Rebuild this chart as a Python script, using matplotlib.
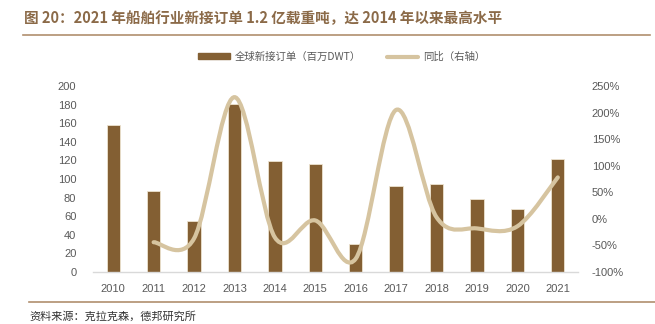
import matplotlib as mpl
mpl.use('Agg')
import matplotlib.pyplot as plt
from matplotlib.path import Path
from matplotlib.patches import PathPatch
from matplotlib.lines import Line2D
from matplotlib.patches import Patch

plt.rcParams['font.family'] = ['Noto Sans CJK SC', 'DejaVu Sans']

years = ['2010', '2011', '2012', '2013', '2014', '2015', '2016', '2017', '2018', '2019', '2020', '2021']
orders = [158, 87, 55, 181, 119, 116, 30, 92, 95, 78, 68, 121]
yoy_years = ['2011', '2012', '2013', '2014', '2015', '2016', '2017', '2018', '2019', '2020', '2021']
yoy = [-44, -37, 229, -35, -3, -75, 205, 3, -18, -14, 78]

title = '图 20：2021 年船舶行业新接订单 1.2 亿载重吨，达 2014 年以来最高水平'
source = '资料来源：克拉克森，德邦研究所'
bar_label = '全球新接订单（百万DWT）'
line_label = '同比（右轴）'

bar_color = '#835F33'
line_color = '#D6C4A0'
tick_color = '#595959'


def smooth_path(xs, ys):
    # Excel-like smoothed line: cubic bezier segments through the points
    pts = list(zip(xs, ys))
    verts = [pts[0]]
    codes = [Path.MOVETO]
    n = len(pts)
    for i in range(n - 1):
        p0 = pts[i - 1] if i > 0 else pts[i]
        p1 = pts[i]
        p2 = pts[i + 1]
        p3 = pts[i + 2] if i + 2 < n else pts[i + 1]
        c1 = (p1[0] + (p2[0] - p0[0]) / 6, p1[1] + (p2[1] - p0[1]) / 6)
        c2 = (p2[0] - (p3[0] - p1[0]) / 6, p2[1] - (p3[1] - p1[1]) / 6)
        verts += [c1, c2, p2]
        codes += [Path.CURVE4] * 3
    return Path(verts, codes)


fig = plt.figure(figsize=(6.55, 3.24), dpi=100)
ax = fig.add_axes([93 / 655, 1 - 272 / 324, 485 / 655, 186 / 324])

x = list(range(len(years)))
ax.bar(x, orders, width=0.33, color=bar_color, edgecolor='#EDE3D0', linewidth=0.6, zorder=2)
ax.set_xlim(-0.5, len(years) - 0.5)
ax.set_ylim(0, 200)
ax.set_yticks(range(0, 201, 20))
ax.set_xticks(x)
ax.set_xticklabels(years)
for s in ['top', 'right', 'left']:
    ax.spines[s].set_visible(False)
ax.spines['bottom'].set_color('#D9D9D9')
ax.spines['bottom'].set_linewidth(1.0)
ax.tick_params(axis='both', length=0, colors=tick_color, labelsize=8)
ax.tick_params(axis='x', pad=9)
ax.tick_params(axis='y', pad=12)

ax2 = ax.twinx()
ax2.set_ylim(-100, 250)
ax2.set_yticks(range(-100, 251, 50))
ax2.set_yticklabels([f'{v}%' for v in range(-100, 251, 50)])
for s in ax2.spines.values():
    s.set_visible(False)
ax2.tick_params(axis='y', length=0, colors=tick_color, labelsize=8, pad=10)

xs = [years.index(y) for y in yoy_years]
path = smooth_path(xs, yoy)
ax2.add_patch(PathPatch(path, facecolor='none', edgecolor=line_color, lw=3, capstyle='round', zorder=3))

for lab in ax.get_xticklabels() + ax.get_yticklabels() + ax2.get_yticklabels():
    lab.set_family(['Liberation Sans', 'DejaVu Sans'])

handles = [Patch(color=bar_color), Line2D([0], [0], color=line_color, lw=3, solid_capstyle='round')]
leg = fig.legend(handles, [bar_label, line_label], loc='center', bbox_to_anchor=(342 / 655, 1 - 57 / 324),
                 ncol=2, frameon=False, fontsize=7.5, handlelength=3.0, handleheight=0.5,
                 columnspacing=2.5, handletextpad=0.5)
for t in leg.get_texts():
    t.set_color(tick_color)

fig.text(24 / 655, 1 - 18 / 324, title, fontsize=10.5, fontweight='bold', color='#8B6A48', va='center')
fig.add_artist(Line2D([23 / 655, 650 / 655], [1 - 35 / 324, 1 - 35 / 324], color='#B08F6E', lw=1.2))
fig.add_artist(Line2D([29 / 655, 1.0], [1 - 302 / 324, 1 - 302 / 324], color='#B08F6E', lw=1.2))
fig.text(29 / 655, 1 - 316 / 324, source, fontsize=8, color='#333333', va='center')

plt.savefig('out.png', dpi=100)
